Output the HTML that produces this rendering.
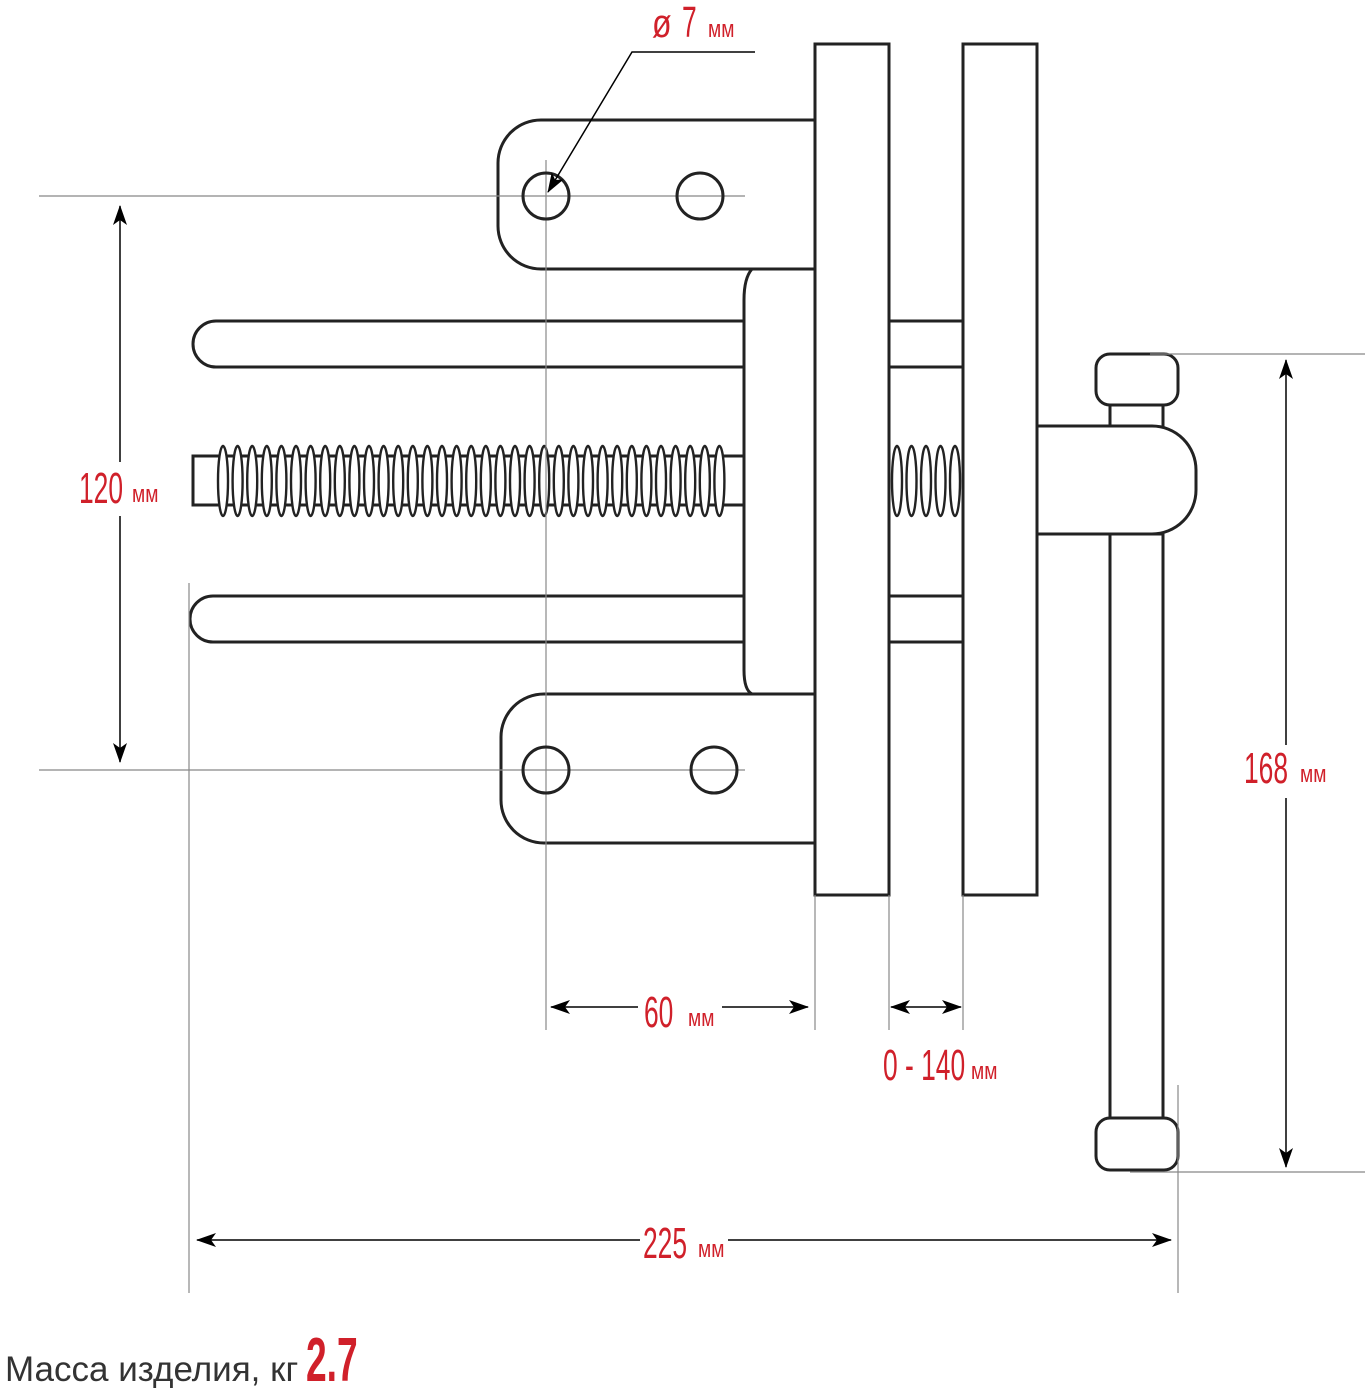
<!DOCTYPE html>
<html><head><meta charset="utf-8"><style>
html,body{margin:0;padding:0;background:#fff;}
svg{display:block;}
.r{fill:#d0202a;font-family:"Liberation Sans",sans-serif;}
</style></head><body>
<svg width="1368" height="1392" viewBox="0 0 1368 1392" xmlns="http://www.w3.org/2000/svg">
<defs>
<marker id="a" viewBox="0 0 20 14" refX="19" refY="7" markerWidth="20" markerHeight="14" markerUnits="userSpaceOnUse" orient="auto-start-reverse">
<path d="M0,0 L20,7 L0,14 L5,7 Z" fill="#000"/>
</marker>
</defs>
<g stroke="#222" stroke-width="3" fill="#fff">
<path d="M744,321 H216 A23,23 0 0 0 216,367 H744"/>
<path d="M744,596 H213 A23,23 0 0 0 213,642 H744"/>
<rect x="193" y="456" width="551" height="49"/>
</g>
<g stroke="#222" stroke-width="2.4" fill="#fff">
<ellipse cx="223" cy="481" rx="5" ry="35"/><ellipse cx="237.6" cy="481" rx="5" ry="35"/><ellipse cx="252.2" cy="481" rx="5" ry="35"/><ellipse cx="266.8" cy="481" rx="5" ry="35"/><ellipse cx="281.4" cy="481" rx="5" ry="35"/><ellipse cx="296" cy="481" rx="5" ry="35"/><ellipse cx="310.6" cy="481" rx="5" ry="35"/><ellipse cx="325.2" cy="481" rx="5" ry="35"/><ellipse cx="339.8" cy="481" rx="5" ry="35"/><ellipse cx="354.4" cy="481" rx="5" ry="35"/><ellipse cx="369" cy="481" rx="5" ry="35"/><ellipse cx="383.6" cy="481" rx="5" ry="35"/><ellipse cx="398.2" cy="481" rx="5" ry="35"/><ellipse cx="412.8" cy="481" rx="5" ry="35"/><ellipse cx="427.4" cy="481" rx="5" ry="35"/><ellipse cx="442" cy="481" rx="5" ry="35"/><ellipse cx="456.6" cy="481" rx="5" ry="35"/><ellipse cx="471.2" cy="481" rx="5" ry="35"/><ellipse cx="485.8" cy="481" rx="5" ry="35"/><ellipse cx="500.4" cy="481" rx="5" ry="35"/><ellipse cx="515" cy="481" rx="5" ry="35"/><ellipse cx="529.6" cy="481" rx="5" ry="35"/><ellipse cx="544.2" cy="481" rx="5" ry="35"/><ellipse cx="558.8" cy="481" rx="5" ry="35"/><ellipse cx="573.4" cy="481" rx="5" ry="35"/><ellipse cx="588" cy="481" rx="5" ry="35"/><ellipse cx="602.6" cy="481" rx="5" ry="35"/><ellipse cx="617.2" cy="481" rx="5" ry="35"/><ellipse cx="631.8" cy="481" rx="5" ry="35"/><ellipse cx="646.4" cy="481" rx="5" ry="35"/><ellipse cx="661" cy="481" rx="5" ry="35"/><ellipse cx="675.6" cy="481" rx="5" ry="35"/><ellipse cx="690.2" cy="481" rx="5" ry="35"/><ellipse cx="704.8" cy="481" rx="5" ry="35"/><ellipse cx="719.4" cy="481" rx="5" ry="35"/>
</g>
<g stroke="#222" stroke-width="3" fill="#fff">
<path d="M815,269 H752 Q744,278 744,300 V670 Q744,690 752,694 H815"/>
<path d="M815,120 H541 A43,43 0 0 0 498,163 V226 A43,43 0 0 0 541,269 H815"/>
<path d="M815,694 H544 A43,43 0 0 0 501,737 V800 A43,43 0 0 0 544,843 H815"/>
<rect x="1110" y="403" width="53" height="24"/>
<rect x="1110" y="534" width="53" height="586"/>
<path d="M1037,426 H1152 A44,44 0 0 1 1196,470 V490 A44,44 0 0 1 1152,534 H1037"/>
<rect x="815" y="44" width="74" height="851"/>
<line x1="889" y1="321" x2="963" y2="321"/><line x1="889" y1="367" x2="963" y2="367"/>
<line x1="889" y1="596" x2="963" y2="596"/><line x1="889" y1="642" x2="963" y2="642"/>
<rect x="963" y="44" width="74" height="851"/>
<rect x="1096" y="354" width="82" height="51" rx="14"/>
<rect x="1096" y="1118" width="82" height="52" rx="14"/>
</g>
<g stroke="#222" stroke-width="2.4" fill="#fff">
<ellipse cx="897" cy="481" rx="5" ry="35"/><ellipse cx="911.5" cy="481" rx="5" ry="35"/><ellipse cx="926" cy="481" rx="5" ry="35"/><ellipse cx="940.5" cy="481" rx="5" ry="35"/><ellipse cx="955" cy="481" rx="5" ry="35"/>
</g>
<g stroke="#888" stroke-width="1.2" fill="none">
<line x1="39" y1="196" x2="745" y2="196"/>
<line x1="39" y1="770" x2="745" y2="770"/>
<line x1="546" y1="160" x2="546" y2="1030"/>
<line x1="189" y1="583" x2="189" y2="1293"/>
<line x1="815" y1="895" x2="815" y2="1030"/>
<line x1="889" y1="895" x2="889" y2="1030"/>
<line x1="963" y1="895" x2="963" y2="1030"/>
<line x1="1178" y1="1085" x2="1178" y2="1293"/>
<line x1="1150" y1="354" x2="1365" y2="354"/>
<line x1="1130" y1="1172" x2="1365" y2="1172"/>
</g>
<g stroke="#222" stroke-width="3" fill="none">
<circle cx="546" cy="196" r="23"/><circle cx="700" cy="196" r="23"/>
<circle cx="546" cy="770" r="23"/><circle cx="714" cy="770" r="23"/>
</g>
<g stroke="#000" stroke-width="1.5" fill="none">
<line x1="120" y1="206" x2="120" y2="462" marker-start="url(#a)"/>
<line x1="120" y1="516" x2="120" y2="762" marker-end="url(#a)"/>
<line x1="1286" y1="360" x2="1286" y2="745" marker-start="url(#a)"/>
<line x1="1286" y1="798" x2="1286" y2="1167" marker-end="url(#a)"/>
<line x1="551" y1="1007" x2="638" y2="1007" marker-start="url(#a)"/>
<line x1="722" y1="1007" x2="808" y2="1007" marker-end="url(#a)"/>
<line x1="891" y1="1007" x2="961" y2="1007" marker-start="url(#a)" marker-end="url(#a)"/>
<line x1="197" y1="1240" x2="640" y2="1240" marker-start="url(#a)"/>
<line x1="728" y1="1240" x2="1171" y2="1240" marker-end="url(#a)"/>
<polyline points="755,52 632,52 548,192" marker-end="url(#a)"/>
</g>
<g class="r">
<text transform="translate(79,503) scale(0.6,1)" font-size="44">120</text>
<text transform="translate(132,502) scale(0.8,1)" font-size="24">мм</text>
<text transform="translate(1244,783) scale(0.6,1)" font-size="44">168</text>
<text transform="translate(1300,782) scale(0.8,1)" font-size="24">мм</text>
<text transform="translate(644,1027) scale(0.6,1)" font-size="44">60</text>
<text transform="translate(688,1026) scale(0.8,1)" font-size="24">мм</text>
<text transform="translate(883,1080) scale(0.6,1)" font-size="44">0 - 140</text>
<text transform="translate(971,1079) scale(0.8,1)" font-size="24">мм</text>
<text transform="translate(643,1258) scale(0.6,1)" font-size="44">225</text>
<text transform="translate(698,1257) scale(0.8,1)" font-size="24">мм</text>
<text transform="translate(652,37) scale(0.8,1)" font-size="40">ø</text>
<text transform="translate(682,37) scale(0.6,1)" font-size="44">7</text>
<text transform="translate(708,37) scale(0.8,1)" font-size="24">мм</text>
<text transform="translate(306,1381) scale(0.6,1)" font-size="62" font-weight="bold">2.7</text>
</g>
<text x="5" y="1381" font-family="Liberation Sans, sans-serif" font-size="35" fill="#333">Масса изделия, кг</text>
</svg>
</body></html>
